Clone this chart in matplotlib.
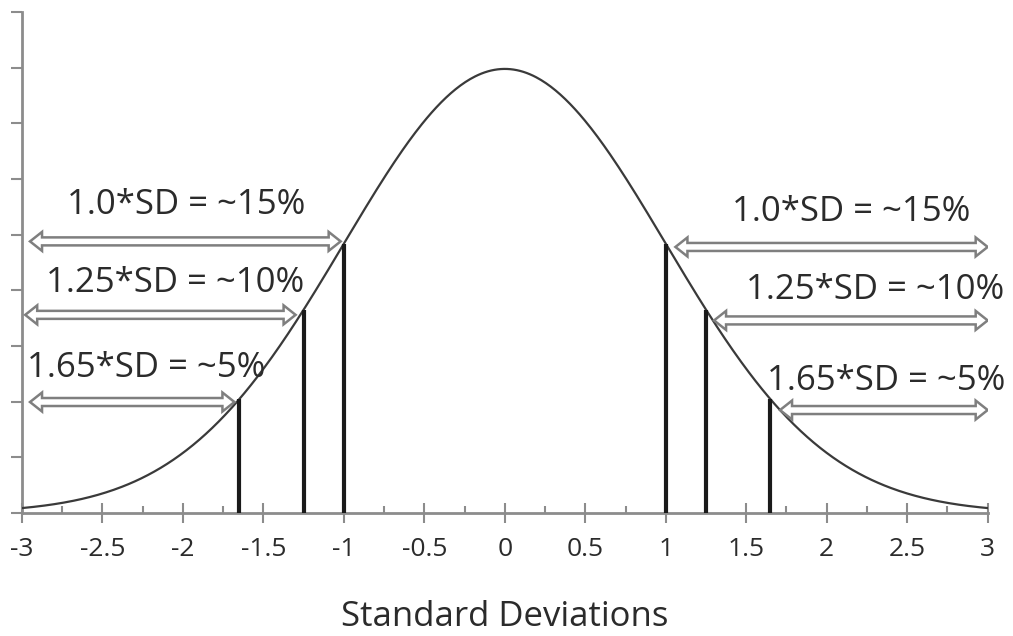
import numpy as np
import matplotlib
matplotlib.use("Agg")
import matplotlib.pyplot as plt
from matplotlib.patches import Polygon
from matplotlib.ticker import MultipleLocator, NullFormatter

# data
x_ticks = [-3, -2.5, -2, -1.5, -1, -0.5, 0, 0.5, 1, 1.5, 2, 2.5, 3]
x_tick_labels = ["-3", "-2.5", "-2", "-1.5", "-1", "-0.5", "0", "0.5", "1", "1.5", "2", "2.5", "3"]
cutoffs_left = [-1.0, -1.25, -1.65]
cutoffs_right = [1.0, 1.25, 1.65]
labels = ["1.0*SD = ~15%", "1.25*SD = ~10%", "1.65*SD = ~5%"]

# arrow spans (x0, x1, y) and label positions
left_arrows = [(-2.95, -1.02, 0.244), (-2.98, -1.30, 0.178), (-2.95, -1.68, 0.0997)]
right_arrows = [(1.06, 3.0, 0.239), (1.30, 3.0, 0.173), (1.71, 3.0, 0.0925)]
left_text = [(-1.98, 0.277), (-2.05, 0.207), (-2.23, 0.130)]
right_text = [(2.15, 0.270), (2.30, 0.200), (2.37, 0.119)]

fig = plt.figure(figsize=(10.13, 6.36), dpi=100)
ax = fig.add_axes([0.0217, 0.1934, 0.9533, 0.7876])

xs = np.linspace(-3, 3, 600)
pdf = np.exp(-xs ** 2 / 2) / np.sqrt(2 * np.pi)
ax.plot(xs, pdf, color="#3a3a3a", lw=1.6, zorder=3)

def norm_pdf(v):
    return np.exp(-v ** 2 / 2) / np.sqrt(2 * np.pi)

for c in cutoffs_left + cutoffs_right:
    ax.plot([c, c], [0, norm_pdf(c)], color="#1a1a1a", lw=3, solid_capstyle="butt", zorder=4)

# hollow double-headed arrow (Excel style)
px_x = 6 / (0.9533 * 1013)
px_y = 0.45 / (0.7876 * 636)

def darrow(x0, x1, y):
    sh = 4 * px_y
    hh = 9.5 * px_y
    hl = 12 * px_x
    pts = [(x0, y), (x0 + hl, y + hh), (x0 + hl, y + sh), (x1 - hl, y + sh),
           (x1 - hl, y + hh), (x1, y), (x1 - hl, y - hh), (x1 - hl, y - sh),
           (x0 + hl, y - sh), (x0 + hl, y - hh)]
    ax.add_patch(Polygon(pts, closed=True, fc="white", ec="#7f7f7f", lw=1.8, zorder=5))

for x0, x1, y in left_arrows + right_arrows:
    darrow(x0, x1, y)

for (tx, ty), lab in zip(left_text + right_text, labels + labels):
    ax.text(tx, ty, lab, fontsize=25, family="Open Sans", color="#2b2b2b",
            ha="center", va="center", zorder=6)

ax.set_xlim(-3, 3)
ax.set_ylim(0, 0.45)
for s in ["top", "right"]:
    ax.spines[s].set_visible(False)
for s in ["left", "bottom"]:
    ax.spines[s].set_color("#8c8c8c")
    ax.spines[s].set_linewidth(2)

ax.set_xticks(x_ticks)
ax.set_xticklabels(x_tick_labels, fontsize=19, family="Open Sans", color="#2b2b2b")
ax.xaxis.set_minor_locator(MultipleLocator(0.25))
ax.tick_params(axis="x", which="major", direction="inout", length=14, width=1.5, color="#8c8c8c", pad=10)
ax.tick_params(axis="x", which="minor", direction="in", length=5, width=1.5, color="#8c8c8c")
ax.yaxis.set_major_locator(MultipleLocator(0.05))
ax.yaxis.set_major_formatter(NullFormatter())
ax.tick_params(axis="y", direction="out", length=8, width=1.5, color="#8c8c8c")

ax.set_xlabel("Standard Deviations", fontsize=25, family="Open Sans", color="#2b2b2b", labelpad=28)

fig.savefig("out.png", dpi=100)
